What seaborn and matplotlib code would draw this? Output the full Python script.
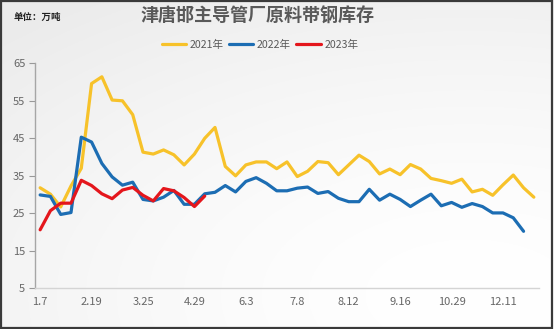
import numpy as np
import pandas as pd
import matplotlib
matplotlib.use("Agg")
import matplotlib.pyplot as plt
from matplotlib.lines import Line2D
from matplotlib.patches import Rectangle
import seaborn as sns

# Weekly raw-strip inventory (10k tonnes), one value per week
inv_2021 = [31.8, 30.1, 26.7, 32.3, 37.0, 59.6, 61.4, 55.2, 55.0, 51.3,
            41.3, 40.8, 41.9, 40.6, 37.9, 40.8, 45.0, 47.9, 37.5, 35.0,
            37.9, 38.7, 38.7, 36.9, 38.7, 34.8, 36.2, 38.8, 38.5, 35.3,
            37.9, 40.5, 38.8, 35.5, 36.8, 35.3, 38.0, 36.8, 34.3, 33.7,
            33.0, 34.1, 30.7, 31.4, 29.8, 32.6, 35.2, 31.8, 29.3]
inv_2022 = [29.9, 29.5, 24.7, 25.2, 45.3, 44.0, 38.3, 34.7, 32.5, 33.3,
            28.7, 28.3, 29.3, 31.1, 27.4, 27.4, 30.2, 30.6, 32.4, 30.7,
            33.5, 34.5, 33.0, 31.0, 31.0, 31.7, 32.0, 30.3, 30.8, 29.0,
            28.1, 28.1, 31.4, 28.5, 30.1, 28.7, 26.8, 28.5, 30.1, 27.0,
            27.9, 26.6, 27.6, 26.8, 25.1, 25.1, 23.8, 20.2]
inv_2023 = [20.6, 25.7, 27.7, 27.7, 33.8, 32.4, 30.2, 28.9, 31.2, 31.9,
            29.8, 28.3, 31.6, 31.0, 29.2, 26.8, 29.6]

years = ["2021年", "2022年", "2023年"]
tick_labels = ["1.7", "2.19", "3.25", "4.29", "6.3", "7.8", "8.12",
               "9.16", "10.29", "12.11"]
label_step = 5
n_weeks = len(inv_2021)

colors = {"2021年": "#F7C22A", "2022年": "#1C6DB3", "2023年": "#E4161C"}

frames = []
for yr, vals in zip(years, [inv_2021, inv_2022, inv_2023]):
    frames.append(pd.DataFrame({"week": np.arange(len(vals)),
                                "value": vals, "year": yr}))
df = pd.concat(frames, ignore_index=True)

sns.set_theme(style="white")
plt.rcParams["font.family"] = ["Noto Sans CJK SC", "DejaVu Sans"]

W, H, DPI = 554, 329, 100
fig = plt.figure(figsize=(W / DPI, H / DPI), dpi=DPI)

# soft grey wash in the lower-left corner of the canvas
bg = fig.add_axes([0, 0, 1, 1], zorder=-5)
gx, gy = np.meshgrid(np.linspace(0, 1, 300), np.linspace(0, 1, 200))
d = np.sqrt(((gx - 0.85) / 1.0) ** 2 + ((gy - 0.9) / 0.9) ** 2)
shade = 1.0 - 0.075 * np.clip(d / 1.2, 0, 1) ** 1.6
bg.imshow(np.dstack([shade, shade, shade]), extent=[0, 1, 0, 1],
          origin="upper", aspect="auto")
bg.set_axis_off()

ax = fig.add_axes([35 / W, 1 - 288.3 / H, 504 / W, 225 / H])
ax.set_facecolor("none")

sns.lineplot(data=df, x="week", y="value", hue="year", hue_order=years,
             palette=colors, linewidth=2.3, ax=ax, legend=False,
             estimator=None, sort=True)

ax.set_xlim(-0.5, n_weeks - 0.5)
ax.set_ylim(5, 65)
ax.set_yticks(np.arange(5, 66, 10))
ax.set_xticks(np.arange(0, n_weeks, label_step)[:len(tick_labels)])
ax.set_xticklabels(tick_labels)
ax.set_xlabel("")
ax.set_ylabel("")
ax.tick_params(axis="x", length=0, pad=6, labelsize=8, labelcolor="#666666")
ax.tick_params(axis="y", length=4, width=0.8, color="#999999", pad=3,
               labelsize=8, labelcolor="#666666", left=True)

for side in ["top", "right"]:
    ax.spines[side].set_visible(False)
ax.spines["left"].set_color("#a6a6a6")
ax.spines["left"].set_linewidth(1.0)
ax.spines["bottom"].set_color("#d4d4d4")
ax.spines["bottom"].set_linewidth(1.0)

# title, unit note and legend
fig.text(258 / W, 1 - 16 / H, "津唐邯主导管厂原料带钢库存", ha="center",
         va="center", fontsize=13, fontweight="bold", color="#595959")
fig.text(14 / W, 1 - 17 / H, "单位：万吨", ha="left", va="center",
         fontsize=6.8, fontweight="bold", color="#222222")

handles = [Line2D([0], [0], color=colors[y], lw=2.3) for y in years]
fig.legend(handles, years, loc="center", bbox_to_anchor=(260 / W, 1 - 45 / H),
           ncol=3, frameon=False, fontsize=7.6, handlelength=2.3,
           handletextpad=0.35, columnspacing=0.5, labelcolor="#595959")

# outer frame
fig.add_artist(Rectangle((0.001, 0.002), 0.996, 0.995, transform=fig.transFigure,
                         fill=False, edgecolor="#3a3a3a", linewidth=1.6))

fig.savefig("out.png", dpi=DPI)
